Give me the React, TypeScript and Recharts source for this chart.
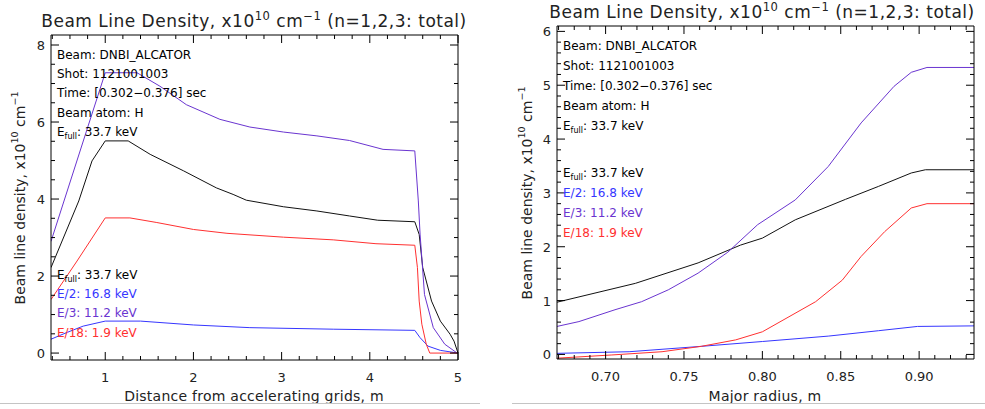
import { LineChart, Line, XAxis, YAxis } from 'recharts';

const FONT = '"DejaVu Sans", Verdana, sans-serif';

const BLACK = '#111111';
const BLUE = '#3636ff';
const PURPLE = '#6a35d0';
const RED = '#ff3030';

// left panel: distance from accelerating grids, m
const leftFullX = [0.385, 0.7, 0.85, 1.0, 1.26, 1.51, 1.89, 2.26, 2.45, 2.6, 3.02, 3.4, 3.77, 4.09, 4.51, 4.56, 4.6, 4.7, 4.8, 4.91, 4.955, 5.0];
const leftFullY = [2.22, 3.95, 4.99, 5.51, 5.51, 5.16, 4.73, 4.29, 4.12, 3.97, 3.8, 3.69, 3.56, 3.45, 3.41, 3.08, 2.22, 1.35, 0.83, 0.49, 0.31, 0.0];

const leftHalfX = [0.385, 0.56, 0.75, 1.0, 1.4, 2.0, 2.64, 3.585, 4.51, 4.57, 4.66, 4.8, 5.0];
const leftHalfY = [0.36, 0.53, 0.7, 0.83, 0.83, 0.73, 0.66, 0.62, 0.59, 0.4, 0.18, 0.07, 0.0];

const leftThirdX = [0.385, 1.0, 1.36, 1.62, 1.92, 2.3, 2.64, 3.02, 3.4, 3.77, 4.15, 4.51, 4.55, 4.57, 4.62, 4.72, 4.85, 4.99];
const leftThirdY = [2.9, 7.28, 7.28, 6.93, 6.45, 6.07, 5.87, 5.74, 5.64, 5.52, 5.29, 5.25, 3.95, 3.09, 1.52, 0.66, 0.23, 0.0];

const leftEighteenX = [0.385, 0.68, 1.0, 1.28, 1.585, 2.0, 2.38, 3.02, 3.585, 4.07, 4.51, 4.54, 4.56, 4.59, 4.64, 4.68, 5.0];
const leftEighteenY = [1.39, 2.39, 3.51, 3.51, 3.39, 3.21, 3.11, 3.01, 2.94, 2.84, 2.8, 2.22, 1.35, 0.75, 0.23, 0.0, 0.0];

// right panel: major radius, m
const rightFullX = [0.669, 0.719, 0.759, 0.786, 0.8, 0.821, 0.853, 0.874, 0.895, 0.904, 0.935];
const rightFullY = [0.97, 1.32, 1.7, 2.03, 2.16, 2.5, 2.88, 3.12, 3.37, 3.43, 3.43];

const rightHalfX = [0.669, 0.715, 0.761, 0.8, 0.842, 0.874, 0.899, 0.935];
const rightHalfY = [0.02, 0.05, 0.15, 0.24, 0.34, 0.44, 0.52, 0.53];

const rightThirdX = [0.669, 0.683, 0.706, 0.723, 0.74, 0.759, 0.778, 0.797, 0.821, 0.842, 0.863, 0.884, 0.895, 0.905, 0.935];
const rightThirdY = [0.52, 0.61, 0.83, 0.98, 1.2, 1.51, 1.9, 2.41, 2.87, 3.49, 4.3, 4.98, 5.24, 5.33, 5.33];

const rightEighteenX = [0.669, 0.704, 0.736, 0.761, 0.783, 0.8, 0.817, 0.834, 0.851, 0.863, 0.878, 0.895, 0.905, 0.935];
const rightEighteenY = [-0.07, -0.01, 0.05, 0.15, 0.27, 0.42, 0.7, 0.98, 1.38, 1.82, 2.28, 2.72, 2.8, 2.8];

const leftXMajor = [1, 2, 3, 4, 5];
const leftYMajor = [0, 2, 4, 6, 8];
const rightXMajor = [0.7, 0.75, 0.8, 0.85, 0.9];
const rightYMajor = [0, 1, 2, 3, 4, 5, 6];

const steps = (a: number, b: number, s: number) =>
  Array.from({ length: Math.round((b - a) / s) + 1 }, (_, i) => +(a + i * s).toFixed(4));

const leftXTicks = steps(0.4, 5, 0.2);
const leftYTicks = steps(0, 8, 0.5);
const rightXTicks = steps(0.67, 0.93, 0.01);
const rightYTicks = steps(0, 6, 0.2);

const zip = (xs: number[], ys: number[]) => xs.map((x, i) => ({ x, y: ys[i] }));

const isMajor = (v: number, majors: number[]) => majors.some((m) => Math.abs(m - v) < 1e-6);

// IDL-style ticks pointing into the box, labels only on bottom/left
const edgeTick = (side: string, majors: number[], fmt?: (v: number) => string) => (p: any) => {
  const { x, y, payload } = p;
  const v = payload.value;
  const len = isMajor(v, majors) ? 8 : 4;
  let line;
  if (side === 'bottom') line = <line x1={x} y1={y} x2={x} y2={y - len} stroke="#000" />;
  else if (side === 'top') line = <line x1={x} y1={y} x2={x} y2={y + len} stroke="#000" />;
  else if (side === 'left') line = <line x1={x} y1={y} x2={x + len} y2={y} stroke="#000" />;
  else line = <line x1={x} y1={y} x2={x - len} y2={y} stroke="#000" />;
  const label = fmt && isMajor(v, majors) ? fmt(v) : null;
  return (
    <g>
      {line}
      {label !== null && side === 'bottom' && (
        <text x={x} y={y + 22} textAnchor="middle" fontSize={13} fontFamily={FONT} fill="#222">
          {label}
        </text>
      )}
      {label !== null && side === 'left' && (
        <text x={x - 6} y={y + 5} textAnchor="end" fontSize={13} fontFamily={FONT} fill="#222">
          {label}
        </text>
      )}
    </g>
  );
};

type Series = { data: { x: number; y: number }[]; color: string; name: string };

const Panel = ({
  series,
  xDomain,
  yDomain,
  xTicks,
  yTicks,
  xMajor,
  yMajor,
  xFmt,
  margin,
}: {
  series: Series[];
  xDomain: number[];
  yDomain: number[];
  xTicks: number[];
  yTicks: number[];
  xMajor: number[];
  yMajor: number[];
  xFmt: (v: number) => string;
  margin: { top: number; right: number; bottom: number; left: number };
}) => (
  <LineChart width={490} height={409} margin={margin}>
    <XAxis
      xAxisId="b"
      type="number"
      dataKey="x"
      domain={xDomain}
      allowDataOverflow
      ticks={xTicks}
      interval={0}
      height={1}
      tickSize={0}
      tickMargin={0}
      tickLine={false}
      axisLine={{ stroke: '#000' }}
      tick={edgeTick('bottom', xMajor, xFmt)}
    />
    <XAxis
      xAxisId="t"
      orientation="top"
      type="number"
      dataKey="x"
      domain={xDomain}
      allowDataOverflow
      ticks={xTicks}
      interval={0}
      height={1}
      tickSize={0}
      tickMargin={0}
      tickLine={false}
      axisLine={{ stroke: '#000' }}
      tick={edgeTick('top', xMajor)}
    />
    <YAxis
      yAxisId="l"
      type="number"
      domain={yDomain}
      allowDataOverflow
      ticks={yTicks}
      interval={0}
      width={1}
      tickSize={0}
      tickMargin={0}
      tickLine={false}
      axisLine={{ stroke: '#000' }}
      tick={edgeTick('left', yMajor, (v) => String(v))}
    />
    <YAxis
      yAxisId="r"
      orientation="right"
      type="number"
      domain={yDomain}
      allowDataOverflow
      ticks={yTicks}
      interval={0}
      width={1}
      tickSize={0}
      tickMargin={0}
      tickLine={false}
      axisLine={{ stroke: '#000' }}
      tick={edgeTick('right', yMajor)}
    />
    {series.map((s) => (
      <Line
        key={s.name}
        xAxisId="b"
        yAxisId="l"
        data={s.data}
        dataKey="y"
        type="linear"
        stroke={s.color}
        strokeWidth={1}
        dot={false}
        isAnimationActive={false}
      />
    ))}
  </LineChart>
);

const sup = (t: string) => (
  <tspan dy={-7} fontSize="0.68em">
    {t}
  </tspan>
);

const Title = ({ x, y }: { x: number; y: number }) => (
  <text x={x} y={y} textAnchor="middle" fontSize={17} fontFamily={FONT} fill="#222" letterSpacing={0.5}>
    Beam Line Density, x10{sup('10')}
    <tspan dy={7}> cm</tspan>
    {sup('−1')}
    <tspan dy={7}> (n=1,2,3: total)</tspan>
  </text>
);

const YLabel = ({ x, y }: { x: number; y: number }) => (
  <text
    x={x}
    y={y}
    transform={`rotate(-90 ${x} ${y})`}
    textAnchor="middle"
    fontSize={14}
    fontFamily={FONT}
    fill="#222"
  >
    Beam line density, x10{sup('10')}
    <tspan dy={7}> cm</tspan>
    {sup('−1')}
  </text>
);

const EFull = ({ x, y }: { x: number; y: number }) => (
  <text x={x} y={y} fontSize={12} fontFamily={FONT} fill="#000">
    E
    <tspan dy={3} fontSize={8}>
      full
    </tspan>
    <tspan dy={-3}>: 33.7 keV</tspan>
  </text>
);

const Notes = ({ x, top, legendTop, gap }: { x: number; top: number; legendTop: number; gap: number }) => {
  const lines = ['Beam: DNBI_ALCATOR', 'Shot: 1121001003', 'Time: [0.302−0.376] sec', 'Beam atom: H'];
  const legend = [
    { t: 'E/2: 16.8 keV', c: BLUE },
    { t: 'E/3: 11.2 keV', c: PURPLE },
    { t: 'E/18: 1.9 keV', c: RED },
  ];
  return (
    <g>
      {lines.map((t, i) => (
        <text key={t} x={x} y={top + i * gap} fontSize={12} fontFamily={FONT} fill="#000">
          {t}
        </text>
      ))}
      <EFull x={x} y={top + 4 * gap} />
      <EFull x={x} y={legendTop} />
      {legend.map((l, i) => (
        <text key={l.t} x={x} y={legendTop + (i + 1) * gap} fontSize={12} fontFamily={FONT} fill={l.c}>
          {l.t}
        </text>
      ))}
    </g>
  );
};

export default function App() {
  const leftSeries: Series[] = [
    { name: 'full', data: zip(leftFullX, leftFullY), color: BLACK },
    { name: 'half', data: zip(leftHalfX, leftHalfY), color: BLUE },
    { name: 'third', data: zip(leftThirdX, leftThirdY), color: PURPLE },
    { name: 'eighteenth', data: zip(leftEighteenX, leftEighteenY), color: RED },
  ];
  const rightSeries: Series[] = [
    { name: 'full', data: zip(rightFullX, rightFullY), color: BLACK },
    { name: 'half', data: zip(rightHalfX, rightHalfY), color: BLUE },
    { name: 'third', data: zip(rightThirdX, rightThirdY), color: PURPLE },
    { name: 'eighteenth', data: zip(rightEighteenX, rightEighteenY), color: RED },
  ];

  return (
    <div style={{ position: 'absolute', left: 0, top: 0, width: 985, height: 409, background: '#fff', overflow: 'hidden' }}>
      <div style={{ position: 'absolute', left: 0, top: 0 }}>
        <Panel
          series={leftSeries}
          xDomain={[0.385, 5.0]}
          yDomain={[-0.18, 8.26]}
          xTicks={leftXTicks}
          yTicks={leftYTicks}
          xMajor={leftXMajor}
          yMajor={leftYMajor}
          xFmt={(v) => String(v)}
          margin={{ top: 34, right: 31, bottom: 48, left: 50 }}
        />
      </div>
      <div style={{ position: 'absolute', left: 495, top: 0 }}>
        <Panel
          series={rightSeries}
          xDomain={[0.669, 0.935]}
          yDomain={[-0.085, 6.1]}
          xTicks={rightXTicks}
          yTicks={rightYTicks}
          xMajor={rightXMajor}
          yMajor={rightYMajor}
          xFmt={(v) => v.toFixed(2)}
          margin={{ top: 25, right: 10, bottom: 49, left: 61 }}
        />
      </div>
      <svg width={985} height={409} style={{ position: 'absolute', left: 0, top: 0, pointerEvents: 'none' }}>
        <Title x={254} y={27} />
        <Title x={762} y={18} />
        <YLabel x={25} y={198} />
        <YLabel x={532} y={193} />
        <text x={254} y={401} textAnchor="middle" fontSize={14} letterSpacing={0.25} fontFamily={FONT} fill="#222">
          Distance from accelerating grids, m
        </text>
        <text x={765} y={401} textAnchor="middle" fontSize={14} letterSpacing={0.25} fontFamily={FONT} fill="#222">
          Major radius, m
        </text>
        <Notes x={57} top={59} legendTop={279} gap={19.2} />
        <Notes x={563} top={50} legendTop={177} gap={20} />
        <line x1={0} y1={403.5} x2={480} y2={403.5} stroke="#c4c4c4" />
        <line x1={512} y1={403.5} x2={985} y2={403.5} stroke="#c4c4c4" />
      </svg>
    </div>
  );
}
